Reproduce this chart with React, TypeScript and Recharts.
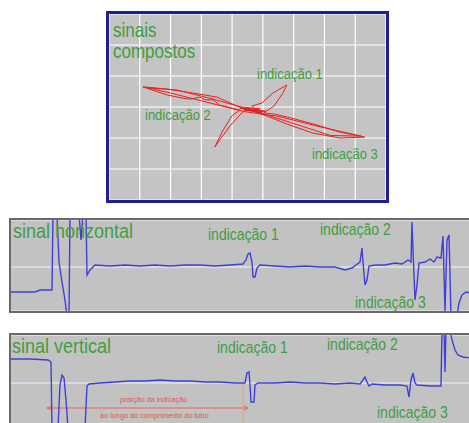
import React from "react";
import { LineChart, Line, XAxis, YAxis, CartesianGrid, ReferenceLine } from "recharts";

// Composite (Lissajous) signal, in grid units (x: 0..9, y: 0..6)
const compositeX = [4.58, 4.16, 3.51, 2.73, 1.88, 1.1, 1.88, 2.53, 2.69, 2.95, 3.12, 3.38, 3.6, 4.25, 3.99, 3.67, 3.44, 3.6, 3.93, 4.25, 4.51, 4.84, 4.64, 4.97, 5.32, 5.78, 5.65, 5.36, 5.03, 5.39, 5.78, 6.75, 7.5, 8.31, 7.5, 6.62, 5.78, 5.13, 4.58, 4.25, 4.97, 4.42, 4.9, 4.3, 3.4, 2.2, 1.25, 2.0, 3.0, 4.4, 5.5, 6.9, 8.2, 7.2, 5.9, 4.7, 4.5, 5.0, 4.4, 4.9, 4.3, 5.1, 4.5];
const compositeY = [2.9, 3.03, 3.32, 3.45, 3.58, 3.65, 3.39, 3.26, 3.26, 3.32, 3.23, 3.23, 3.06, 2.9, 2.71, 2.19, 1.71, 1.94, 2.39, 2.74, 2.97, 2.84, 3.03, 3.13, 3.45, 3.71, 3.45, 3.03, 2.81, 2.77, 2.68, 2.42, 2.19, 2.03, 2.0, 2.16, 2.45, 2.71, 2.9, 2.97, 2.81, 2.9, 2.94, 3.0, 3.25, 3.55, 3.62, 3.45, 3.2, 2.85, 2.7, 2.35, 2.06, 2.08, 2.5, 2.88, 2.95, 2.85, 2.92, 2.9, 2.96, 2.86, 2.93];

// Horizontal signal: position along tube vs amplitude
const horizPos = [0, 24, 29, 41, 42, 46, 48, 51, 54, 56, 58, 59, 68, 70, 72, 75, 76, 79, 84, 99, 114, 129, 144, 159, 174, 189, 204, 219, 232, 235, 237, 239, 241, 242, 244, 246, 249, 264, 279, 294, 309, 324, 334, 341, 345, 349, 351, 352, 354, 356, 358, 364, 374, 384, 391, 397, 400, 401, 402, 404, 406, 408, 414, 419, 423, 426, 430, 432, 434, 436, 438, 440, 446, 448, 451, 455, 459];
const horizAmp = [-25, -25, -23, -23, 53, 53, 5, -15, -33, -49, -49, 53, 53, 27, 53, 53, -8, -3, 2, 1, 2, 1, 2, 1, 2, 2, 1, 2, 3, 7, 13, 14, 5, -10, -10, -1, 2, 1, 0, 1, 0, 0, -3, -1, 2, 5, 19, 5, -18, -13, 1, 2, 2, 4, 3, 7, 5, 45, 17, -33, -18, 4, 5, 8, 5, 10, 9, 31, -45, 27, 32, -49, -49, -36, -28, -25, -26];

// Vertical signal
const vertPos = [0, 19, 37, 40, 41, 47, 49, 51, 53, 55, 57, 74, 76, 78, 89, 104, 119, 134, 149, 164, 179, 194, 209, 224, 234, 236, 238, 239, 240, 243, 244, 247, 264, 279, 294, 309, 324, 339, 349, 352, 354, 356, 358, 361, 374, 389, 396, 398, 400, 402, 404, 406, 419, 430, 431, 433, 434, 435, 439, 441, 444, 447, 452, 459];
const vertAmp = [24, 24, 23, 21, -45, -45, -2, 8, 5, -17, -45, -45, -3, -1, 0, 1, 2, 2, 3, 2, 2, 1, 1, 0, 0, 10, 11, -2, -19, -19, -2, 0, 0, 1, 0, 0, -1, 0, -1, 3, 6, 1, -3, -1, -2, -2, -3, -14, 3, 10, 0, -2, -3, -3, 53, 53, 11, 53, 53, 43, 33, 28, 26, 25];

const compositeData = compositeX.map((x, i) => ({ x, y: compositeY[i] }));
const horizData = horizPos.map((x, i) => ({ x, y: horizAmp[i] }));
const vertData = vertPos.map((x, i) => ({ x, y: vertAmp[i] }));

const FONT = "'Liberation Sans', Arial, sans-serif";
const GREEN = "#3f9e3f";
const BLUE = "#4040d8";

const Txt = ({ x, y, size, children, color = GREEN, sy = 1.15 }: any) => (
  <div
    style={{
      position: "absolute",
      left: x,
      top: y,
      fontSize: size,
      lineHeight: 1,
      fontFamily: FONT,
      color,
      whiteSpace: "nowrap",
      transform: `scaleY(${sy})`,
      transformOrigin: "0 100%",
    }}
  >
    {children}
  </div>
);

export default function App() {
  return (
    <div style={{ position: "absolute", left: 0, top: 0, width: 469, height: 423, background: "#fff", overflow: "hidden" }}>
      {/* Composite signals */}
      <div
        style={{
          position: "absolute",
          left: 106,
          top: 11,
          width: 277,
          height: 186,
          border: "3px solid #1f1f8f",
          background: "#c4c4c4",
        }}
      >
        <LineChart width={277} height={186} data={compositeData} margin={{ top: 0, right: 0, bottom: 0, left: 0 }}>
          <CartesianGrid stroke="#ffffff" strokeWidth={1.2} />
          <XAxis type="number" dataKey="x" domain={[0, 9]} ticks={[1, 2, 3, 4, 5, 6, 7, 8]} hide />
          <YAxis type="number" domain={[0, 6]} ticks={[1, 2, 3, 4, 5]} hide />
          <Line type="linear" dataKey="y" stroke="#e82020" strokeWidth={1} dot={false} isAnimationActive={false} />
        </LineChart>
      </div>
      <Txt x={113} y={23} size={17}>sinais</Txt>
      <Txt x={113} y={44} size={17}>compostos</Txt>
      <Txt x={257} y={68} size={13}>indicação 1</Txt>
      <Txt x={145} y={109} size={13}>indicação 2</Txt>
      <Txt x={312} y={148} size={13}>indicação 3</Txt>

      {/* Horizontal signal */}
      <div
        style={{
          position: "absolute",
          left: 9,
          top: 218,
          width: 460,
          height: 91,
          borderTop: "2px solid #6a6a6a",
          borderLeft: "2px solid #6a6a6a",
          borderBottom: "2px solid #6a6a6a",
          background: "#c2c2c2",
        }}
      >
        <LineChart width={458} height={91} data={horizData} margin={{ top: 0, right: 0, bottom: 0, left: 0 }}>
          <CartesianGrid stroke="#f4f4f4" vertical={false} />
          <XAxis type="number" dataKey="x" domain={[0, 458]} allowDataOverflow hide />
          <YAxis type="number" domain={[-44, 47]} ticks={[0]} allowDataOverflow hide />
          <Line type="linear" dataKey="y" stroke={BLUE} strokeWidth={1.4} dot={false} isAnimationActive={false} />
        </LineChart>
      </div>
      <Txt x={13} y={223} size={18}>sinal horizontal</Txt>
      <Txt x={208} y={228} size={14}>indicação 1</Txt>
      <Txt x={320} y={223} size={14}>indicação 2</Txt>
      <Txt x={355} y={296} size={14}>indicação 3</Txt>

      {/* Vertical signal */}
      <div
        style={{
          position: "absolute",
          left: 9,
          top: 333,
          width: 460,
          height: 92,
          borderTop: "2px solid #6a6a6a",
          borderLeft: "2px solid #6a6a6a",
          background: "#c2c2c2",
        }}
      >
        <LineChart width={458} height={90} data={vertData} margin={{ top: 0, right: 0, bottom: 0, left: 0 }}>
          <CartesianGrid stroke="#f4f4f4" vertical={false} />
          <XAxis type="number" dataKey="x" domain={[0, 458]} allowDataOverflow hide />
          <YAxis type="number" domain={[-42, 48]} ticks={[0]} allowDataOverflow hide />
          <ReferenceLine segment={[{ x: 36, y: -25 }, { x: 237, y: -25 }]} stroke="#f06060" strokeWidth={1} />
          <ReferenceLine segment={[{ x: 36, y: -25 }, { x: 40, y: -23 }]} stroke="#f06060" strokeWidth={1} />
          <ReferenceLine segment={[{ x: 36, y: -25 }, { x: 40, y: -27 }]} stroke="#f06060" strokeWidth={1} />
          <ReferenceLine segment={[{ x: 237, y: -25 }, { x: 233, y: -23 }]} stroke="#f06060" strokeWidth={1} />
          <ReferenceLine segment={[{ x: 237, y: -25 }, { x: 233, y: -27 }]} stroke="#f06060" strokeWidth={1} />
          <ReferenceLine segment={[{ x: 232, y: 0 }, { x: 232, y: -42 }]} stroke="#d8a060" strokeWidth={0.8} />
          <Line type="linear" dataKey="y" stroke={BLUE} strokeWidth={1.4} dot={false} isAnimationActive={false} />
        </LineChart>
      </div>
      <Txt x={12} y={338} size={18}>sinal vertical</Txt>
      <Txt x={217} y={341} size={14}>indicação 1</Txt>
      <Txt x={327} y={338} size={14}>indicação 2</Txt>
      <Txt x={377} y={406} size={14}>indicação 3</Txt>
      <Txt x={120} y={396} size={7.2} color="#e85050" sy={1}>posição da indicação</Txt>
      <Txt x={100} y={412} size={7.3} color="#e85050" sy={1}>ao longo do comprimento do tubo</Txt>
    </div>
  );
}
